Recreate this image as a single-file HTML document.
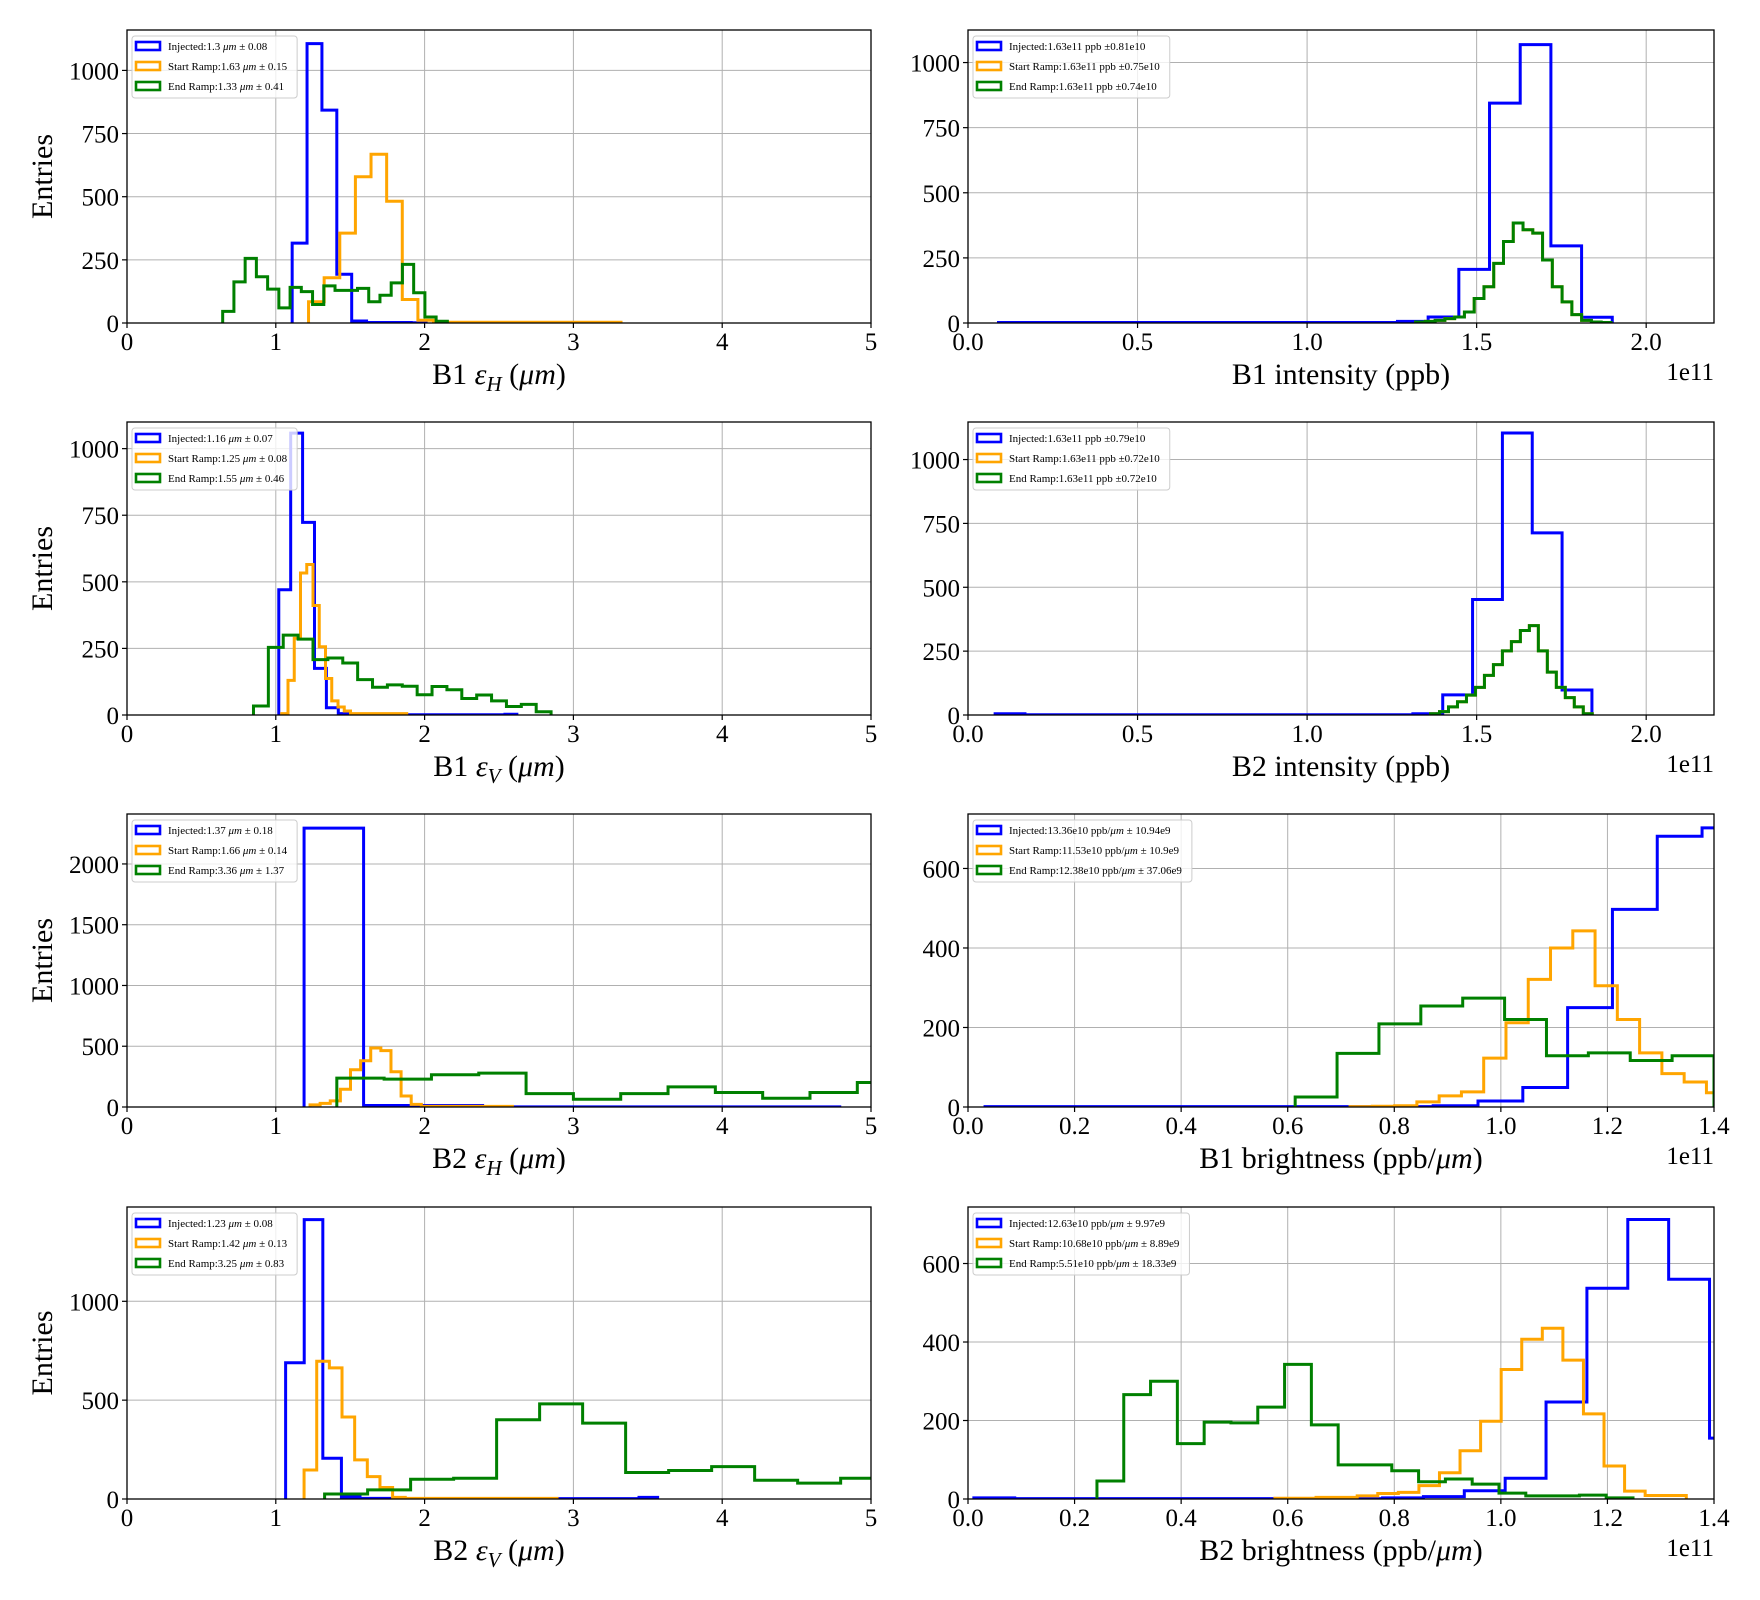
<!DOCTYPE html>
<html><head><meta charset="utf-8">
<style>
html,body{margin:0;padding:0;background:#fff;}
svg{display:block;font-family:"Liberation Serif","DejaVu Serif",serif;}
</style></head>
<body>
<svg id="fig" width="1760" height="1600" viewBox="0 0 1760 1600" xmlns="http://www.w3.org/2000/svg"></svg>
<script>
// ---------- DATA (bin start, bin width, counts) ----------
const p1_blue_start = 1.11, p1_blue_width = 0.1;
const p1_blue_counts = [316,1106,843,193,8,2,2,2,1];
const p1_orange_start = 1.22, p1_orange_width = 0.105;
const p1_orange_counts = [84,179,356,579,668,482,93,11,3,3,3,3,3,3,3,3,3,3,3,3];
const p1_green_start = 0.643, p1_green_width = 0.0755;
const p1_green_counts = [46,163,256,183,134,60,141,124,73,147,129,129,137,84,110,159,232,120,24,7];
const p2_blue_start = 0.09, p2_blue_width = 0.0905;
const p2_blue_counts = [2,2,2,2,2,2,2,2,2,2,2,2,2,6,23,206,844,1069,296,22];
const p2_orange_start = 1.32, p2_orange_width = 0.0288;
const p2_orange_counts = [4,6,10,17,23,42,94,139,229,313,384,358,345,242,139,81,32,10,4,2];
const p2_green_counts = [4,6,10,17,23,42,94,139,229,313,384,358,345,242,139,81,32,10,4,2];
const p3_blue_start = 1.02, p3_blue_width = 0.08;
const p3_blue_counts = [470,1058,723,175,27,5,3,2,2,1,1,1,1,1,1,1,1,1,1,3];
const p3_orange_start = 1.04, p3_orange_width = 0.042;
const p3_orange_counts = [5,130,288,533,565,411,256,137,53,30,15,5,5,5,5,5,5,5,5,5];
const p3_green_start = 0.85, p3_green_width = 0.1;
const p3_green_counts = [34,254,300,285,208,214,195,133,104,113,108,76,107,95,62,75,53,32,40,12];
const p4_blue_start = 0.08, p4_blue_width = 0.088;
const p4_blue_counts = [5,1,1,1,1,1,1,1,1,1,1,1,1,1,5,79,452,1104,713,98];
const p4_orange_start = 1.364, p4_orange_width = 0.0265;
const p4_orange_counts = [5,13,32,52,78,108,155,197,251,287,331,350,251,168,108,68,32,5];
const p4_green_counts = [5,13,32,52,78,108,155,197,251,287,331,350,251,168,108,68,32,5];
const p5_blue_start = 1.19, p5_blue_width = 0.4;
const p5_blue_counts = [2295,12,12,1,1,1,1,1,1];
const p5_orange_start = 1.23, p5_orange_width = 0.068;
const p5_orange_counts = [17,30,50,146,307,381,486,464,290,91,22,5,5,5,5,5,5,5,5,5];
const p5_green_start = 1.41, p5_green_width = 0.318;
const p5_green_counts = [238,229,265,279,110,64,110,166,119,72,119,202];
const p6_blue_start = 0.032, p6_blue_width = 0.0841;
const p6_blue_counts = [1,1,1,1,1,1,1,1,1,1,3,15,49,250,497,681,702];
const p6_orange_start = 0.717, p6_orange_width = 0.0418;
const p6_orange_counts = [1,2,3,13,28,38,123,212,321,400,443,305,220,136,84,63,36];
const p6_green_start = 0.614, p6_green_width = 0.0786;
const p6_green_counts = [25,135,209,254,274,220,129,136,117,129];
const p7_blue_start = 1.066, p7_blue_width = 0.125;
const p7_blue_counts = [689,1413,206,10,3,3,2,2,2,2,2,2,2,2,2,2,2,2,2,8];
const p7_orange_start = 1.19, p7_orange_width = 0.085;
const p7_orange_counts = [147,697,663,415,198,113,58,8,3,3,3,3,3,3,3,3,3,3,3,3];
const p7_green_start = 1.328, p7_green_width = 0.289;
const p7_green_counts = [25,46,100,105,401,481,384,134,144,164,95,80,105];
const p8_blue_start = 0.011, p8_blue_width = 0.0767;
const p8_blue_counts = [3,1,1,1,1,1,1,1,1,1,3,6,21,53,247,537,712,560,155];
const p8_orange_start = 0.576, p8_orange_width = 0.0386;
const p8_orange_counts = [2,2,4,4,8,14,17,34,67,123,198,330,407,435,354,217,84,20,9,9];
const p8_green_start = 0.242, p8_green_width = 0.0503;
const p8_green_counts = [46,266,300,141,196,194,234,343,189,87,87,72,44,51,38,15,8,8,10,3];

const ticksEps = [0,1,2,3,4,5];
const ticksInt = [0.0,0.5,1.0,1.5,2.0];
const ticksBri = [0.0,0.2,0.4,0.6,0.8,1.0,1.2,1.4];
const yticks1000 = [0,250,500,750,1000];
const yticks2000 = [0,500,1000,1500,2000];
const yticks600 = [0,200,400,600];
const yticks1000b = [0,500,1000];

const legendP1 = ["Injected:1.3 |μm| ± 0.08","Start Ramp:1.63 |μm| ± 0.15","End Ramp:1.33 |μm| ± 0.41"];
const legendP2 = ["Injected:1.63e11 ppb ±0.81e10","Start Ramp:1.63e11 ppb ±0.75e10","End Ramp:1.63e11 ppb ±0.74e10"];
const legendP3 = ["Injected:1.16 |μm| ± 0.07","Start Ramp:1.25 |μm| ± 0.08","End Ramp:1.55 |μm| ± 0.46"];
const legendP4 = ["Injected:1.63e11 ppb ±0.79e10","Start Ramp:1.63e11 ppb ±0.72e10","End Ramp:1.63e11 ppb ±0.72e10"];
const legendP5 = ["Injected:1.37 |μm| ± 0.18","Start Ramp:1.66 |μm| ± 0.14","End Ramp:3.36 |μm| ± 1.37"];
const legendP6 = ["Injected:13.36e10 ppb/|μm| ± 10.94e9","Start Ramp:11.53e10 ppb/|μm| ± 10.9e9","End Ramp:12.38e10 ppb/|μm| ± 37.06e9"];
const legendP7 = ["Injected:1.23 |μm| ± 0.08","Start Ramp:1.42 |μm| ± 0.13","End Ramp:3.25 |μm| ± 0.83"];
const legendP8 = ["Injected:12.63e10 ppb/|μm| ± 9.97e9","Start Ramp:10.68e10 ppb/|μm| ± 8.89e9","End Ramp:5.51e10 ppb/|μm| ± 18.33e9"];

const COLORS = {blue:"#0000ff", orange:"#ffa500", green:"#008000"};
const NS = "http://www.w3.org/2000/svg";
const svg = document.getElementById('fig');

function mk(tag, attrs, parent){
  const e = document.createElementNS(NS, tag);
  for (const k in attrs) e.setAttribute(k, attrs[k]);
  (parent||svg).appendChild(e);
  return e;
}

const L = [127, 871], R = [968, 1714];
const ROWS = [[30,323],[422,715],[814,1107],[1207,1499]];

const panels = [
 {id:'p1', name:'b1-eps-h', col:L, row:ROWS[0], xmax:5, ymax:1160, xt:ticksEps, xfmt:v=>String(v), yt:yticks1000,
  xlabel:['B1 ','ε','H',' (','μm',')'], entries:true, exp:false, legend:legendP1,
  series:[['blue',p1_blue_start,p1_blue_width,p1_blue_counts],['orange',p1_orange_start,p1_orange_width,p1_orange_counts],['green',p1_green_start,p1_green_width,p1_green_counts]]},
 {id:'p2', name:'b1-intensity', col:R, row:ROWS[0], xmax:2.2, ymax:1125, xt:ticksInt, xfmt:v=>v.toFixed(1), yt:yticks1000,
  xlabel:'B1 intensity (ppb)', entries:false, exp:true, legend:legendP2,
  series:[['blue',p2_blue_start,p2_blue_width,p2_blue_counts],['orange',p2_orange_start,p2_orange_width,p2_orange_counts],['green',p2_orange_start,p2_orange_width,p2_green_counts]]},
 {id:'p3', name:'b1-eps-v', col:L, row:ROWS[1], xmax:5, ymax:1100, xt:ticksEps, xfmt:v=>String(v), yt:yticks1000,
  xlabel:['B1 ','ε','V',' (','μm',')'], entries:true, exp:false, legend:legendP3,
  series:[['blue',p3_blue_start,p3_blue_width,p3_blue_counts],['orange',p3_orange_start,p3_orange_width,p3_orange_counts],['green',p3_green_start,p3_green_width,p3_green_counts]]},
 {id:'p4', name:'b2-intensity', col:R, row:ROWS[1], xmax:2.2, ymax:1147, xt:ticksInt, xfmt:v=>v.toFixed(1), yt:yticks1000,
  xlabel:'B2 intensity (ppb)', entries:false, exp:true, legend:legendP4,
  series:[['blue',p4_blue_start,p4_blue_width,p4_blue_counts],['orange',p4_orange_start,p4_orange_width,p4_orange_counts],['green',p4_orange_start,p4_orange_width,p4_green_counts]]},
 {id:'p5', name:'b2-eps-h', col:L, row:ROWS[2], xmax:5, ymax:2411, xt:ticksEps, xfmt:v=>String(v), yt:yticks2000,
  xlabel:['B2 ','ε','H',' (','μm',')'], entries:true, exp:false, legend:legendP5,
  series:[['blue',p5_blue_start,p5_blue_width,p5_blue_counts],['orange',p5_orange_start,p5_orange_width,p5_orange_counts],['green',p5_green_start,p5_green_width,p5_green_counts]]},
 {id:'p6', name:'b1-brightness', col:R, row:ROWS[2], xmax:1.4, ymax:737, xt:ticksBri, xfmt:v=>v.toFixed(1), yt:yticks600,
  xlabel:['B1 brightness (ppb/','μm',')'], entries:false, exp:true, legend:legendP6,
  series:[['blue',p6_blue_start,p6_blue_width,p6_blue_counts],['orange',p6_orange_start,p6_orange_width,p6_orange_counts],['green',p6_green_start,p6_green_width,p6_green_counts]]},
 {id:'p7', name:'b2-eps-v', col:L, row:ROWS[3], xmax:5, ymax:1477, xt:ticksEps, xfmt:v=>String(v), yt:yticks1000b,
  xlabel:['B2 ','ε','V',' (','μm',')'], entries:true, exp:false, legend:legendP7,
  series:[['blue',p7_blue_start,p7_blue_width,p7_blue_counts],['orange',p7_orange_start,p7_orange_width,p7_orange_counts],['green',p7_green_start,p7_green_width,p7_green_counts]]},
 {id:'p8', name:'b2-brightness', col:R, row:ROWS[3], xmax:1.4, ymax:744, xt:ticksBri, xfmt:v=>v.toFixed(1), yt:yticks600,
  xlabel:['B2 brightness (ppb/','μm',')'], entries:false, exp:true, legend:legendP8,
  series:[['blue',p8_blue_start,p8_blue_width,p8_blue_counts],['orange',p8_orange_start,p8_orange_width,p8_orange_counts],['green',p8_green_start,p8_green_width,p8_green_counts]]}
];

const defs = mk('defs', {});

panels.forEach(p => {
  const x0 = p.col[0], x1 = p.col[1], y0 = p.row[0], y1 = p.row[1];
  const xs = v => x0 + (v/p.xmax)*(x1-x0);
  const ys = v => y1 - (v/p.ymax)*(y1-y0);
  const g = mk('g', {});
  
  

  const cp = mk('clipPath', {id:'clip-'+p.id}, defs);
  mk('rect', {x:x0, y:y0, width:x1-x0, height:y1-y0}, cp);

  const grid = mk('g', {stroke:'#b0b0b0','stroke-width':1}, g);
  
  
  p.xt.forEach(v => { const x = xs(v); mk('line', {x1:x, x2:x, y1:y0, y2:y1}, grid); });
  p.yt.forEach(v => { const y = ys(v); mk('line', {x1:x0, x2:x1, y1:y, y2:y}, grid); });

  const hg = mk('g', {'clip-path':'url(#clip-'+p.id+')'}, g);
  p.series.forEach(s => {
    const [col, start, width, counts] = s;
    let d = 'M' + xs(start) + ',' + ys(0);
    counts.forEach((c, i) => {
      const xa = xs(start + i*width), xb = xs(start + (i+1)*width);
      d += ' L' + xa + ',' + ys(c) + ' L' + xb + ',' + ys(c);
    });
    d += ' L' + xs(start + counts.length*width) + ',' + ys(0);
    const path = mk('path', {d:d, fill:'none', stroke:COLORS[col], 'stroke-width':3, 'stroke-linejoin':'miter'}, hg);
    
    
  });

  const frame = mk('rect', {x:x0, y:y0, width:x1-x0, height:y1-y0, fill:'none', stroke:'#000', 'stroke-width':1.3}, g);
  
  

  p.xt.forEach(v => {
    const x = xs(v);
    mk('line', {x1:x, x2:x, y1:y1, y2:y1+5, stroke:'#000','stroke-width':1.2}, g);
    const t = mk('text', {x:x, y:y1+27, 'font-size':25, 'text-anchor':'middle', fill:'#000'}, g);
    t.textContent = p.xfmt(v);
    
    
  });
  p.yt.forEach(v => {
    const y = ys(v);
    mk('line', {x1:x0-5, x2:x0, y1:y, y2:y, stroke:'#000','stroke-width':1.2}, g);
    const t = mk('text', {x:x0-8, y:y+9, 'font-size':25, 'text-anchor':'end', fill:'#000'}, g);
    t.textContent = String(v);
    
    
  });

  const xl = mk('text', {x:(x0+x1)/2, y:y1+61, 'font-size':30, 'text-anchor':'middle', fill:'#000'}, g);
  
  
  if (typeof p.xlabel === 'string') { xl.textContent = p.xlabel; }
  else if (p.xlabel.length === 6) {
    const parts = p.xlabel;
    let ts = mk('tspan', {}, xl); ts.textContent = parts[0];
    ts = mk('tspan', {'font-style':'italic'}, xl); ts.textContent = parts[1];
    ts = mk('tspan', {'font-style':'italic','font-size':21, dy:7}, xl); ts.textContent = parts[2];
    ts = mk('tspan', {dy:-7}, xl); ts.textContent = parts[3];
    ts = mk('tspan', {'font-style':'italic'}, xl); ts.textContent = parts[4];
    ts = mk('tspan', {}, xl); ts.textContent = parts[5];
  } else {
    let ts = mk('tspan', {}, xl); ts.textContent = p.xlabel[0];
    ts = mk('tspan', {'font-style':'italic'}, xl); ts.textContent = p.xlabel[1];
    ts = mk('tspan', {}, xl); ts.textContent = p.xlabel[2];
  }
  if (p.exp) {
    const e = mk('text', {x:x1, y:y1+57, 'font-size':25, 'text-anchor':'end', fill:'#000'}, g);
    e.textContent = '1e11';
    
    
  }
  if (p.entries) {
    const cy = (y0+y1)/2;
    const yl = mk('text', {x:0, y:0, 'font-size':30, 'text-anchor':'middle', fill:'#000', transform:'translate(52,'+cy+') rotate(-90)'}, g);
    yl.textContent = 'Entries';
    
    
  }

  const lg = mk('g', {}, g);
  
  
  const box = mk('rect', {x:x0+5, y:y0+6, width:160, height:62, rx:3, fill:'#fff','fill-opacity':0.8, stroke:'#cccccc','stroke-width':1}, lg);
  let maxw = 0;
  const cols = ['blue','orange','green'];
  p.legend.forEach((txt, i) => {
    const ey = y0 + 12 + i*20;
    const pr = mk('rect', {x:x0+9, y:ey, width:24, height:8, fill:'#fff', stroke:COLORS[cols[i]], 'stroke-width':2.6}, lg);
    
    
    const t = mk('text', {x:x0+41, y:ey+8, 'font-size':11, fill:'#000'}, lg);
    
    
    txt.split('|').forEach((seg, k) => {
      const ts = mk('tspan', k % 2 === 1 ? {'font-style':'italic'} : {}, t);
      ts.textContent = seg;
    });
    try { maxw = Math.max(maxw, t.getComputedTextLength()); } catch(err) {}
  });
  if (maxw > 0) box.setAttribute('width', 36 + maxw + 10);
});
</script>
</body></html>
